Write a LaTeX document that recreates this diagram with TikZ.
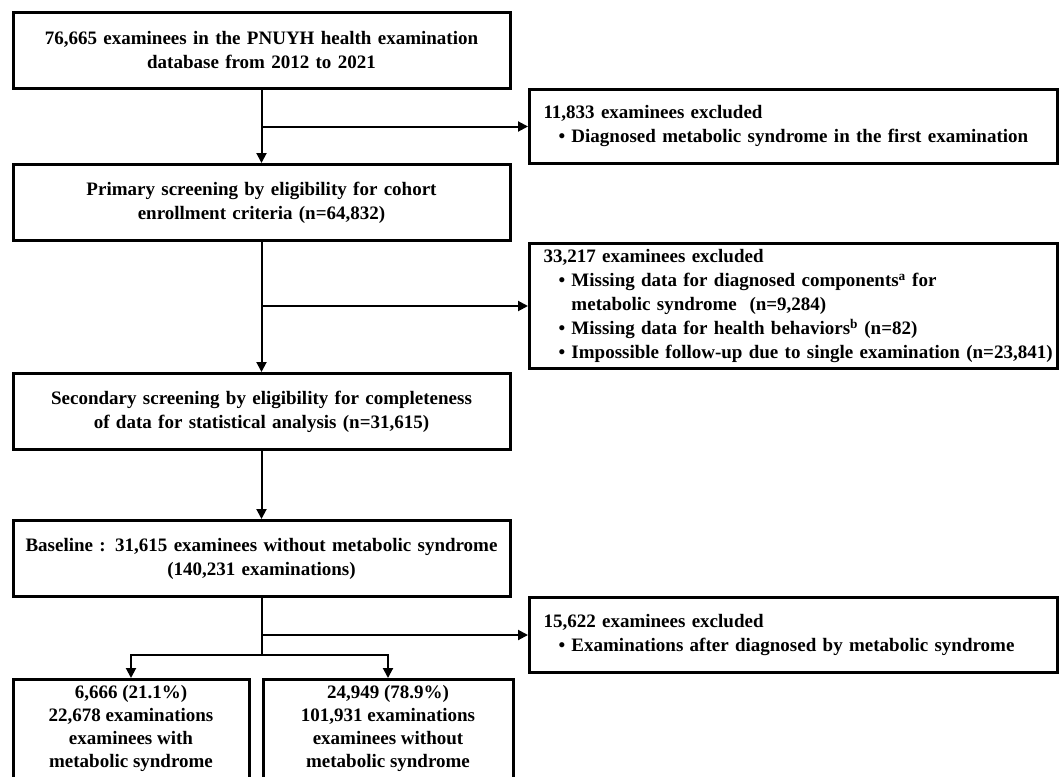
\documentclass[tikz,border=0pt]{standalone}
\usepackage{fontspec}
\setmainfont{Liberation Serif}
\usetikzlibrary{arrows.meta}
\newcommand{\hd}{\hspace*{14pt}}
\newcommand{\itm}{\hspace*{29pt}\textbullet\ }
\newcommand{\cont}{\hspace*{29pt}\phantom{\textbullet\ }}
\begin{document}
\begin{tikzpicture}[x=1pt,y=-1pt,
    txt/.style={font=\bfseries\fontsize{19}{24}\selectfont},
    box/.style={txt,draw,line width=3pt,minimum width=497pt,minimum height=76pt,text width=490pt,align=center,inner sep=0pt},
    excl/.style={txt,draw,line width=3pt,anchor=north west,minimum width=528pt,text width=528pt,align=left,inner sep=0pt},
    group/.style={txt,draw,line width=3pt,anchor=north,inner xsep=2pt,inner ysep=6pt},
    arr/.style={line width=2pt,-{Triangle[length=10pt,width=10pt]}},
    ln/.style={line width=2pt}]
  \clip (0,0) rectangle (1059,776);
  % main flow
  \node[box] (top) at (261.5,50.5) {76,665 examinees in the PNUYH health examination\\database from 2012 to 2021};
  \node[box] (prim) at (261.5,202.5) {Primary screening by eligibility for cohort\\enrollment criteria (n=64,832)};
  \node[box] (sec) at (261.5,411.5) {Secondary screening by eligibility for completeness\\of data for statistical analysis (n=31,615)};
  \node[box] (base) at (261.5,558.5) {Baseline : 31,615 examinees without metabolic syndrome\\(140,231 examinations)};
  % exclusions
  \node[excl,minimum height=74pt] (exc1) at (528,88) {\hd 11,833 examinees excluded\\
    \itm Diagnosed metabolic syndrome in the first examination};
  \node[excl,minimum height=125pt] (exc2) at (528,242) {\hd 33,217 examinees excluded\\
    \itm Missing data for diagnosed components\textsuperscript{a} for\\
    \cont metabolic syndrome~ (n=9,284)\\
    \itm Missing data for health behaviors\textsuperscript{b} (n=82)\\
    \itm Impossible follow-up due to single examination (n=23,841)};
  \node[excl,minimum height=75pt] (exc3) at (528,596) {\hd 15,622 examinees excluded\\
    \itm Examinations after diagnosed by metabolic syndrome};
  % groups
  \node[group] (withms) at (131,678) {\parbox[c][120pt][t]{232pt}{\centering\baselineskip=23pt 6,666 (21.1\%)\\22,678 examinations\\examinees with\\metabolic syndrome}};
  \node[group] (withoutms) at (388,678) {\parbox[c][120pt][t]{246pt}{\centering\baselineskip=23pt 24,949 (78.9\%)\\101,931 examinations\\examinees without\\metabolic syndrome}};
  % connectors
  \draw[arr] (top) -- (prim);
  \draw[arr] (top.south |- exc1.west) -- (exc1.west);
  \draw[arr] (prim) -- (sec);
  \draw[arr] (prim.south |- exc2.west) -- (exc2.west);
  \draw[arr] (sec) -- (base);
  \draw[arr] (base.south |- exc3.west) -- (exc3.west);
  \draw[ln] (base.south) -- ++(0,57) coordinate (split);
  \draw[arr] (split) -| (withms);
  \draw[arr] (split) -| (withoutms);
\end{tikzpicture}
\end{document}
